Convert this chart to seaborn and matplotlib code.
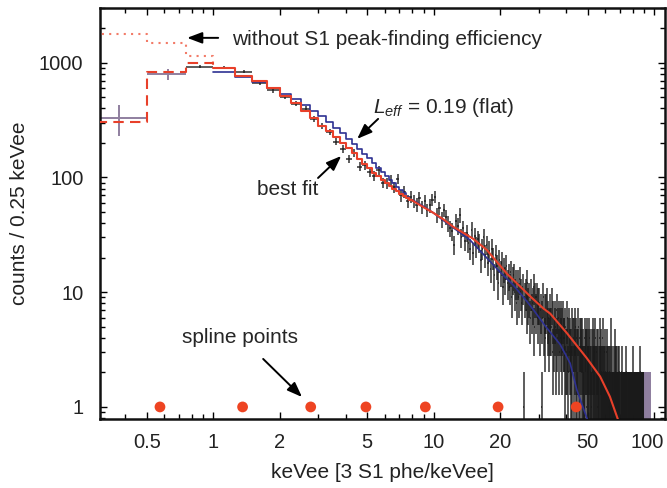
import numpy as np
import matplotlib
matplotlib.use("Agg")
import matplotlib.pyplot as plt
import matplotlib.transforms as mtransforms
from matplotlib.ticker import LogLocator, NullFormatter
import seaborn as sns

# ---- data: counts per 0.25 keVee bin, bins start at 0.25 keVee ----
bin_width = 0.25
first_center = 0.375
counts = [
    331, 795, 927, 908, 838, 668, 573, 501, 441, 396, 324, 280, 250,
    205, 178, 146, 165, 124, 128, 112, 103, 116, 90, 89, 95, 82, 97, 70, 75, 62, 68,
    # from 8 keVee, four bins per keVee
    62, 58, 66, 55,  62, 52, 57, 64,  68, 47, 54, 43,  52, 45, 40, 36,
    34, 26, 42, 38,  47, 30, 36, 28,  33, 27, 24, 35,  22, 31, 25, 29,
    27, 19, 24, 30,  21, 26, 18, 23,  16, 24, 20, 14,  21, 17, 12, 19,
    15, 18, 11, 16,  13, 17, 12, 14,  11, 15, 9, 13,   14, 10, 12, 8,
    12, 9, 13, 10,   8, 11, 1, 9,     10, 7, 12, 8,    9, 6, 10, 7,
    8, 11, 5, 9,     7, 9, 6, 8,      8, 5, 7, 1,      6, 9, 5, 7,
    4, 7, 8, 5,      6, 4, 7, 5,      5, 8, 3, 6,      4, 6, 5, 3,
    7, 4, 5, 6,      3, 5, 4, 6,      5, 3, 6, 4,      4, 2, 5, 3,
    3, 6, 4, 2,      5, 3, 4, 2,      3, 5, 2, 4,      4, 2, 3, 5,
    2, 4, 3, 1,      3, 5, 2, 4,      2, 3, 4, 2,      4, 2, 3, 1,
    2, 4, 2, 3,      3, 1, 4, 2,      2, 3, 1, 4,      3, 2, 2, 1,
    1, 3, 2, 4,      2, 1, 3, 2,      4, 2, 1, 3,      2, 1, 3, 1,
    1, 2, 4, 2,      3, 1, 2, 1,      2, 4, 1, 2,      1, 2, 3, 1,
    2, 1, 1, 3,      1, 2, 1, 2,      1, 0, 2, 1,      2, 1, 1, 4,
    1, 2, 1, 1,      0, 1, 2, 1,      1, 3, 1, 2,      2, 1, 0, 1,
    1, 2, 1, 1,      1, 1, 2, 0,      1, 0, 1, 1,      2, 1, 1, 0,
    1, 1, 0, 1,      1, 1, 1, 1,      0, 1, 1, 2,      1, 1, 0, 1,
    1, 0, 1, 1,      1, 1, 1, 0,      1, 1, 1, 1,      0, 1, 1, 1,
    1, 2, 0, 1,      1, 1, 1, 0,      1, 0, 1, 1,      1, 1, 0, 1,
    1, 1, 1, 1,      0, 1, 1, 0,      1, 1, 2, 1,      1, 0, 1, 1,
    1, 1, 0, 1,      1, 1, 1, 0,      1, 1, 0, 1,
    1, 1, 1, 1,      1, 1, 1, 1,      1, 1, 1, 1,      1, 1, 1, 1,
    1, 1, 1, 1,
]
low_errors = [100, 90]          # efficiency-corrected first two bins
fit_range = (0.75, 91.0)

# best fit (red) and L_eff = 0.19 flat (blue) model histograms
no_eff_edges = [0.25, 0.5, 0.75, 1.0]
no_eff = [1790, 1485, 1150, 1000]
red_low = [302, 830, 1000, 908]
step_edges_start, step_edges_stop = 1.0, 8.0
red_step = [908, 773, 700, 600, 518, 444, 381, 329, 283, 255, 225, 200, 180,
            163, 145, 132, 120, 110, 102, 95, 89, 85, 80, 76, 72, 69, 66, 63]
blue_step = [823, 758, 680, 605, 535, 484, 430, 383, 340, 307, 272, 243, 218,
             197, 178, 161, 147, 134, 122, 112, 104, 96, 89, 83, 78, 73, 68, 64]
red_tail_e = [8, 9, 10, 11.1, 12.3, 15, 17.4, 21.5, 23, 27.4, 31.5, 33.8,
              40.2, 49.5, 56.9, 63, 69.5]
red_tail_v = [63, 55, 49, 43, 37, 29.5, 23.4, 14.5, 12.8, 9.2, 7.2, 6.5,
              4.4, 2.66, 1.84, 1.23, 0.72]
blue_tail_e = [8, 9, 10, 11.1, 14.6, 20, 23, 26.5, 28.4, 32, 37.5, 41.6, 44.6, 50.5]
blue_tail_v = [64, 56, 49, 42, 28.6, 15, 11.5, 8.3, 7.0, 5.1, 3.5, 2.4, 1.41, 0.72]

spline_x = [0.574, 1.36, 2.77, 4.93, 9.17, 19.6, 44.3]
spline_y = [1, 1, 1, 1, 1, 1, 1]

xticks = [0.5, 1, 2, 5, 10, 20, 50, 100]
xticklabels = ["0.5", "1", "2", "5", "10", "20", "50", "100"]
yticks = [1, 10, 100, 1000]
yticklabels = ["1", "10", "100", "1000"]

RED = "#e8402a"
RED_LIGHT = "#f27b68"
BLUE = "#2e3192"
DATA = "#1a1a1a"
OUT = "#8f7f9f"

# ---- style ----
sns.set_theme(style="ticks")
plt.rcParams["font.family"] = ["Liberation Sans", "DejaVu Sans"]
plt.rcParams["mathtext.fontset"] = "custom"
plt.rcParams["mathtext.rm"] = "Liberation Sans"
plt.rcParams["mathtext.it"] = "Liberation Sans:italic"

fig, ax = plt.subplots(figsize=(6.67, 4.88), dpi=100)
fig.subplots_adjust(left=0.15, right=0.997, bottom=0.1414, top=0.9836)

ax.set_xscale("log")
ax.set_yscale("log")

# ---- data points ----
counts = np.array(counts, dtype=float)
centers = first_center + bin_width * np.arange(len(counts))
errors = np.sqrt(counts)
errors[:len(low_errors)] = low_errors
keep = counts > 0
inside = (centers > fit_range[0]) & (centers < fit_range[1])

ax.errorbar(centers[keep & inside], counts[keep & inside],
            yerr=errors[keep & inside], xerr=bin_width / 2,
            fmt="none", ecolor=DATA, elinewidth=1.1, alpha=0.9, zorder=2)
ax.errorbar(centers[keep & ~inside], counts[keep & ~inside],
            yerr=errors[keep & ~inside], xerr=bin_width / 2,
            fmt="none", ecolor=OUT, elinewidth=1.4, zorder=2)

# ---- model curves ----
step_edges = np.arange(step_edges_start, step_edges_stop + 1e-9, bin_width)

sns.lineplot(x=no_eff_edges, y=no_eff, drawstyle="steps-post", color=RED_LIGHT,
             lw=1.5, linestyle=(0, (1, 2.5)), estimator=None, sort=False, ax=ax, zorder=3)
sns.lineplot(x=no_eff_edges, y=red_low, drawstyle="steps-post", color=RED,
             lw=1.5, linestyle=(0, (5, 3)), estimator=None, sort=False, ax=ax, zorder=3)

sns.lineplot(x=step_edges, y=blue_step + [blue_tail_v[0]], drawstyle="steps-post",
             color=BLUE, lw=1.2, estimator=None, sort=False, ax=ax, zorder=3)
sns.lineplot(x=blue_tail_e, y=blue_tail_v, color=BLUE, lw=1.2,
             estimator=None, sort=False, ax=ax, zorder=3)
sns.lineplot(x=step_edges, y=red_step + [red_tail_v[0]], drawstyle="steps-post",
             color=RED, lw=1.5, estimator=None, sort=False, ax=ax, zorder=4)
sns.lineplot(x=red_tail_e, y=red_tail_v, color=RED, lw=1.5,
             estimator=None, sort=False, ax=ax, zorder=4)

sns.scatterplot(x=spline_x, y=spline_y, color="#ee4422", s=60, edgecolor="none",
                ax=ax, zorder=5)

# ---- annotations ----
arrow = dict(arrowstyle="-|>,head_length=0.45,head_width=0.17", color="black",
             lw=1.4, shrinkA=0, shrinkB=0, mutation_scale=20)
ax.annotate("", xy=(0.762, 1648), xytext=(1.054, 1648), arrowprops=arrow)
ax.text(1.22, 1432, "without S1 peak-finding efficiency", fontsize=15,
        ha="left", va="baseline")
ax.annotate("", xy=(4.5, 217), xytext=(5.6, 324), arrowprops=arrow)
ax.text(5.32, 363, r"$L_{eff}$ = 0.19 (flat)", fontsize=15, ha="left", va="baseline")
ax.annotate("", xy=(3.81, 154), xytext=(2.99, 99), arrowprops=arrow)
ax.text(2.99, 70.5, "best fit", fontsize=15, ha="right", va="baseline")
ax.annotate("", xy=(2.53, 1.22), xytext=(1.686, 2.62), arrowprops=arrow)
ax.text(0.721, 3.59, "spline points", fontsize=15, ha="left", va="baseline")

# ---- axes ----
ax.set_xlim(0.307, 112)
ax.set_ylim(0.785, 3000)
ax.set_xticks(xticks, labels=xticklabels)
ax.set_yticks(yticks, labels=yticklabels)
ax.xaxis.set_minor_locator(LogLocator(base=10, subs=np.arange(2, 10)))
ax.yaxis.set_minor_locator(LogLocator(base=10, subs=np.arange(2, 10)))
ax.xaxis.set_minor_formatter(NullFormatter())
ax.yaxis.set_minor_formatter(NullFormatter())
ax.tick_params(which="both", direction="in", top=True, right=True,
               color="black", width=1.0, labelsize=14.5, labelcolor="#222222")
ax.tick_params(which="major", length=5)
ax.tick_params(which="minor", length=3.5)
ax.tick_params(axis="x", which="major", pad=10)
ax.tick_params(axis="y", which="major", pad=12)
for side in ax.spines.values():
    side.set_linewidth(1.8)
    side.set_color("#111111")

# nudge the last x label so it stays inside the figure
last = ax.get_xticklabels()[-1]
last.set_transform(last.get_transform()
                   + mtransforms.ScaledTranslation(-0.07, 0, fig.dpi_scale_trans))

ax.set_xlabel("keVee [3 S1 phe/keVee]", fontsize=15, color="#222222", labelpad=8)
ax.set_ylabel("counts / 0.25 keVee", fontsize=15, color="#222222", labelpad=7)

fig.savefig("out.png", dpi=100)
